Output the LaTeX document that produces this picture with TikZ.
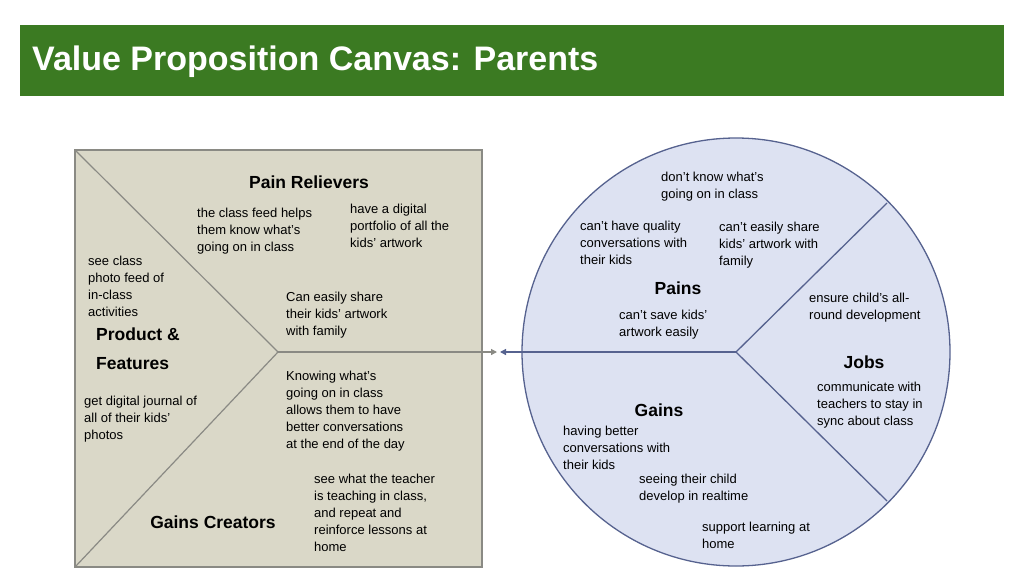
\documentclass[tikz,border=0pt]{standalone}
\usepackage{fontspec}
\setmainfont{Liberation Sans}
\usetikzlibrary{arrows.meta}
\definecolor{tgreen}{HTML}{3B7A22}
\definecolor{sqfill}{HTML}{DAD8C8}
\definecolor{sqline}{HTML}{8A8A84}
\definecolor{cfill}{HTML}{DDE2F2}
\definecolor{cline}{HTML}{56628F}
\tikzset{
 txt/.style={anchor=north west,align=left,font=\fontsize{13}{17}\selectfont,inner sep=0pt},
 hd/.style={font=\bfseries\fontsize{17.5}{22}\selectfont,inner sep=0pt},
}
\begin{document}
\begin{tikzpicture}[x=1pt,y=-1pt]
\useasboundingbox (0,0) rectangle (1024,576);
\fill[tgreen] (20,25) rectangle (1004,96);
\node[anchor=west,text=white,font=\bfseries\fontsize{34}{40}\selectfont,inner sep=0pt] (title) at (32,62) {Value Proposition Canvas: Parents};
% square
\draw[sqline,fill=sqfill,line width=1.6pt] (75,150) rectangle (482,567);
\coordinate (sc) at (278,352);
\coordinate (tl) at (75,150);
\coordinate (bl) at (75,567);
\coordinate (sr) at (482,352);
\draw[sqline,line width=1.2pt] (tl) -- (sc) -- (bl);
\draw[sqline,line width=1.2pt] (sc) -- (sr);
\coordinate (ga) at (497,352);
\draw[sqline,line width=1.2pt,-{Triangle[length=6pt,width=6pt]}] (sr) -- (ga);
% circle
\draw[cline,fill=cfill,line width=1.3pt] (736,352) circle (214);
\coordinate (cc) at (736,352);
\coordinate (cl) at (522,352);
\coordinate (cur) at (887,203);
\coordinate (clr) at (887,501);
\coordinate (ca) at (500,352);
\draw[cline,line width=1.3pt] (cur) -- (cc) -- (clr);
\draw[cline,line width=1.3pt] (cc) -- (cl);
\draw[cline,line width=1.3pt,-{Triangle[length=6pt,width=6pt]}] (cl) -- (ca);
% left texts
\node[hd] (pr) at (309,182) {Pain Relievers};
\node[txt] (t1) at (197,208) {the class feed helps\\them know what’s\\going on in class};
\node[txt] (t2) at (350,204) {have a digital\\portfolio of all the\\kids’ artwork};
\node[txt] (t3) at (88,256) {see class\\photo feed of\\in-class\\activities};
\node[hd,anchor=north west,align=left,font=\bfseries\fontsize{17.5}{29}\selectfont] (pf) at (96,328) {Product \&\\Features};
\node[txt] (t4) at (286,292) {Can easily share\\their kids’ artwork\\with family};
\node[txt] (t5) at (286,371) {Knowing what’s\\going on in class\\allows them to have\\better conversations\\at the end of the day};
\node[txt] (t6) at (84,396) {get digital journal of\\all of their kids’\\photos};
\node[txt] (t7) at (314,474) {see what the teacher\\is teaching in class,\\and repeat and\\reinforce lessons at\\home};
\node[hd] (gc) at (213,522) {Gains Creators};
% right texts
\node[txt] (r1) at (661,172) {don’t know what’s\\going on in class};
\node[txt] (r2) at (580,221) {can’t have quality\\conversations with\\their kids};
\node[txt] (r3) at (719,222) {can’t easily share\\kids’ artwork with\\family};
\node[hd] (pa) at (678,288) {Pains};
\node[txt] (r4) at (619,310) {can’t save kids’\\artwork easily};
\node[txt] (r5) at (809,293) {ensure child’s all-\\round development};
\node[hd] (jo) at (864,362) {Jobs};
\node[txt] (r6) at (817,382) {communicate with\\teachers to stay in\\sync about class};
\node[hd] (ga2) at (659,410) {Gains};
\node[txt] (r7) at (563,426) {having better\\conversations with\\their kids};
\node[txt] (r8) at (639,474) {seeing their child\\develop in realtime};
\node[txt] (r9) at (702,522) {support learning at\\home};
\end{tikzpicture}
\end{document}
